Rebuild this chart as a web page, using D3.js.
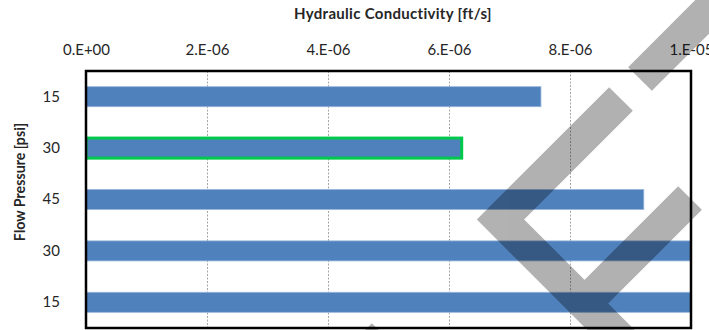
<!DOCTYPE html>
<html>
<head>
<meta charset="utf-8">
<script src="https://cdn.jsdelivr.net/npm/d3@7"></script>
<style>
  html, body { margin: 0; padding: 0; background: #fff; }
  svg { display: block; }
  text { font-family: Lato, "Liberation Sans", sans-serif; fill: #262626; }
</style>
</head>
<body>
<svg id="chart" width="709" height="330"></svg>
<script>
// ---- data ----
const categories = ["15", "30", "45", "30", "15"];          // Flow Pressure [psi], top to bottom
const conductivity = [7.52e-6, 6.21e-6, 9.22e-6, 1.0e-5, 1.0e-5]; // Hydraulic Conductivity [ft/s]
const highlighted = [false, true, false, false, false];
const tickValues = [0, 2e-6, 4e-6, 6e-6, 8e-6, 1e-5];
const tickLabels = ["0.E+00", "2.E-06", "4.E-06", "6.E-06", "8.E-06", "1.E-05"];
const xTitle = "Hydraulic Conductivity [ft/s]";
const yTitle = "Flow Pressure [psi]";

// ---- layout ----
const W = 709, H = 330;
const plot = { left: 86, top: 71, right: 691, bottom: 328 };

const svg = d3.select("#chart");

const x = d3.scaleLinear().domain([0, 1e-5]).range([plot.left, plot.right]);
const y = d3.scaleBand().domain(d3.range(categories.length)).range([plot.top, plot.bottom]).padding(0);
const barH = y.bandwidth() * 0.39;

// clip for bars
svg.append("defs").append("clipPath").attr("id", "plotclip")
  .append("rect").attr("x", plot.left).attr("y", plot.top)
  .attr("width", plot.right - plot.left).attr("height", plot.bottom - plot.top);

// grid lines
svg.append("g").selectAll("line")
  .data(tickValues.slice(1, -1))
  .join("line")
  .attr("x1", d => Math.round(x(d)) + 0.5).attr("x2", d => Math.round(x(d)) + 0.5)
  .attr("y1", plot.top).attr("y2", plot.bottom)
  .attr("stroke", "#a6a6a6").attr("stroke-width", 1).attr("stroke-dasharray", "2,1.5");

// bars
const bars = svg.append("g").attr("clip-path", "url(#plotclip)");
bars.selectAll("rect")
  .data(conductivity)
  .join("rect")
  .attr("x", x(0))
  .attr("y", (d, i) => y(i) + (y.bandwidth() - barH) / 2)
  .attr("width", d => x(d) - x(0))
  .attr("height", barH)
  .attr("fill", "#4f81bd")
  .attr("stroke", (d, i) => highlighted[i] ? "#00c94b" : "#9ab6dc")
  .attr("stroke-width", (d, i) => highlighted[i] ? 3 : 0.8);

// plot border
svg.append("rect")
  .attr("x", plot.left).attr("y", plot.top)
  .attr("width", plot.right - plot.left).attr("height", plot.bottom - plot.top)
  .attr("fill", "none").attr("stroke", "#000").attr("stroke-width", 2.5);

// x axis (top)
const xAxis = d3.axisTop(x)
  .tickValues(tickValues)
  .tickFormat((d, i) => tickLabels[i])
  .tickSize(0).tickPadding(0);
const gx = svg.append("g").attr("transform", `translate(0,${plot.top - 16})`).call(xAxis);
gx.select(".domain").remove();
gx.selectAll("text").attr("font-size", 15).attr("font-family", "Lato, sans-serif").attr("fill", "#262626");

// y axis (category labels)
const yAxis = d3.axisLeft(y).tickFormat(i => categories[i]).tickSize(0).tickPadding(0);
const gy = svg.append("g").attr("transform", `translate(${plot.left - 26},0)`).call(yAxis);
gy.select(".domain").remove();
gy.selectAll("text").attr("font-size", 15).attr("font-family", "Lato, sans-serif").attr("fill", "#262626");

// titles
svg.append("text")
  .attr("x", 393).attr("y", 19)
  .attr("text-anchor", "middle")
  .attr("font-size", 15).attr("font-weight", "bold")
  .attr("letter-spacing", 0.3)
  .text(xTitle);
svg.append("text")
  .attr("transform", "translate(25,182) rotate(-90)")
  .attr("text-anchor", "middle")
  .attr("font-size", 14.2).attr("font-weight", "bold")
  .text(yTitle);

// translucent watermark overlay (decoration)
const watermark = [
  [[640, 79], [745, -26]],
  [[621, 99], [500.5, 219.5], [640, 359]],
  [[690, 198], [584.5, 303.5]],
  [[360, 335], [400, 375]]
];
const wm = svg.append("g").attr("opacity", 0.3);
wm.selectAll("path").data(watermark).join("path")
  .attr("d", d => d3.line()(d))
  .attr("fill", "none").attr("stroke", "#000")
  .attr("stroke-width", 33.5)
  .attr("stroke-linejoin", "miter").attr("stroke-linecap", "butt");
</script>
</body>
</html>
